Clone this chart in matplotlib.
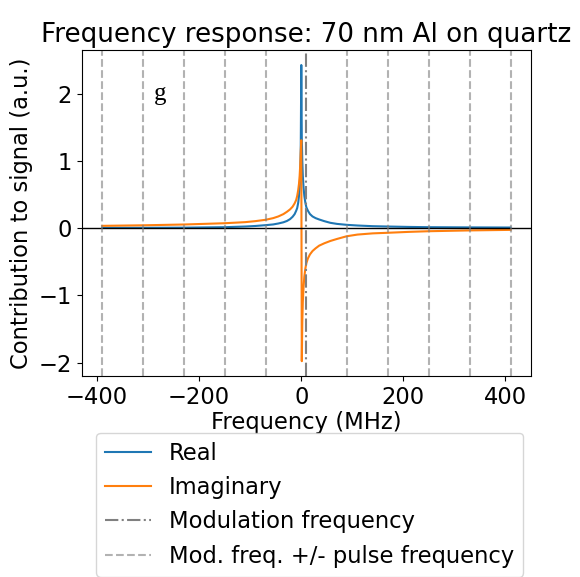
import matplotlib
matplotlib.use("Agg")
import matplotlib.pyplot as plt

plt.rcParams.update({
    "font.size": 16,
    "axes.titlesize": 18.8,
    "axes.labelsize": 16.3,
    "xtick.labelsize": 16.3,
    "ytick.labelsize": 16.3,
    "legend.fontsize": 16.3,
})

# frequency samples (MHz)
freq = [-390, -310, -230, -150, -110, -90, -70, -55, -45, -35, -28, -22,
        -17, -13, -10, -8, -6, -4.5, -3.2, -2, -1, 0,
        1, 2, 3, 4.5, 6, 8, 10, 13, 17, 22, 28, 35, 45, 57, 70, 89, 110,
        140, 170, 210, 250, 330, 410]

real_part = [0.005, 0.006, 0.008, 0.015, 0.025, 0.033, 0.045, 0.056, 0.07,
             0.088, 0.108, 0.135, 0.17, 0.21, 0.26, 0.3, 0.38, 0.48, 0.6,
             0.8, 1.2, 2.43,
             1.35, 1.0, 0.78, 0.6, 0.48, 0.38, 0.31, 0.26, 0.21, 0.175,
             0.15, 0.13, 0.105, 0.08, 0.064, 0.05, 0.04, 0.03, 0.025,
             0.019, 0.015, 0.012, 0.01]

imag_part = [0.035, 0.043, 0.055, 0.074, 0.09, 0.105, 0.125, 0.15, 0.175,
             0.21, 0.245, 0.28, 0.32, 0.37, 0.42, 0.48, 0.57, 0.66, 0.78,
             0.95, 1.15, 1.31,
             -1.98, -1.4, -1.1, -0.87, -0.72, -0.6, -0.52, -0.45, -0.39,
             -0.34, -0.3, -0.26, -0.225, -0.19, -0.16, -0.12, -0.095,
             -0.077, -0.068, -0.055, -0.045, -0.033, -0.025]

mod_freq = 10          # MHz
pulse_freq = 80        # MHz
n_sidebands = [-5, -4, -3, -2, -1, 1, 2, 3, 4, 5]

fig = plt.figure(figsize=(5.8, 5.77), dpi=100)
ax = fig.add_axes([0.141, 0.3484, 0.7745, 0.5646])

ax.plot(freq, real_part, color="tab:blue", lw=1.5, label="Real")
ax.plot(freq, imag_part, color="tab:orange", lw=1.5, label="Imaginary")
ax.axhline(0, color="black", lw=1.0)
ax.axvline(mod_freq, color="gray", ls="-.", lw=1.5,
           label="Modulation frequency")
for i, n in enumerate(n_sidebands):
    ax.axvline(mod_freq + n * pulse_freq, color="gray", alpha=0.6, ls="--",
               lw=1.5,
               label="Mod. freq. +/- pulse frequency" if i == 0 else None)

ax.text(-276, 2.0, "g", family="Liberation Serif", fontsize=18,
        ha="center", va="center")

ax.set_title("Frequency response: 70 nm Al on quartz")
ax.set_xlabel("Frequency (MHz)", labelpad=2)
ax.set_ylabel("Contribution to signal (a.u.)")

fig.legend(loc="upper center", bbox_to_anchor=(0.534, 0.27))

fig.savefig("out.png", dpi=100)
